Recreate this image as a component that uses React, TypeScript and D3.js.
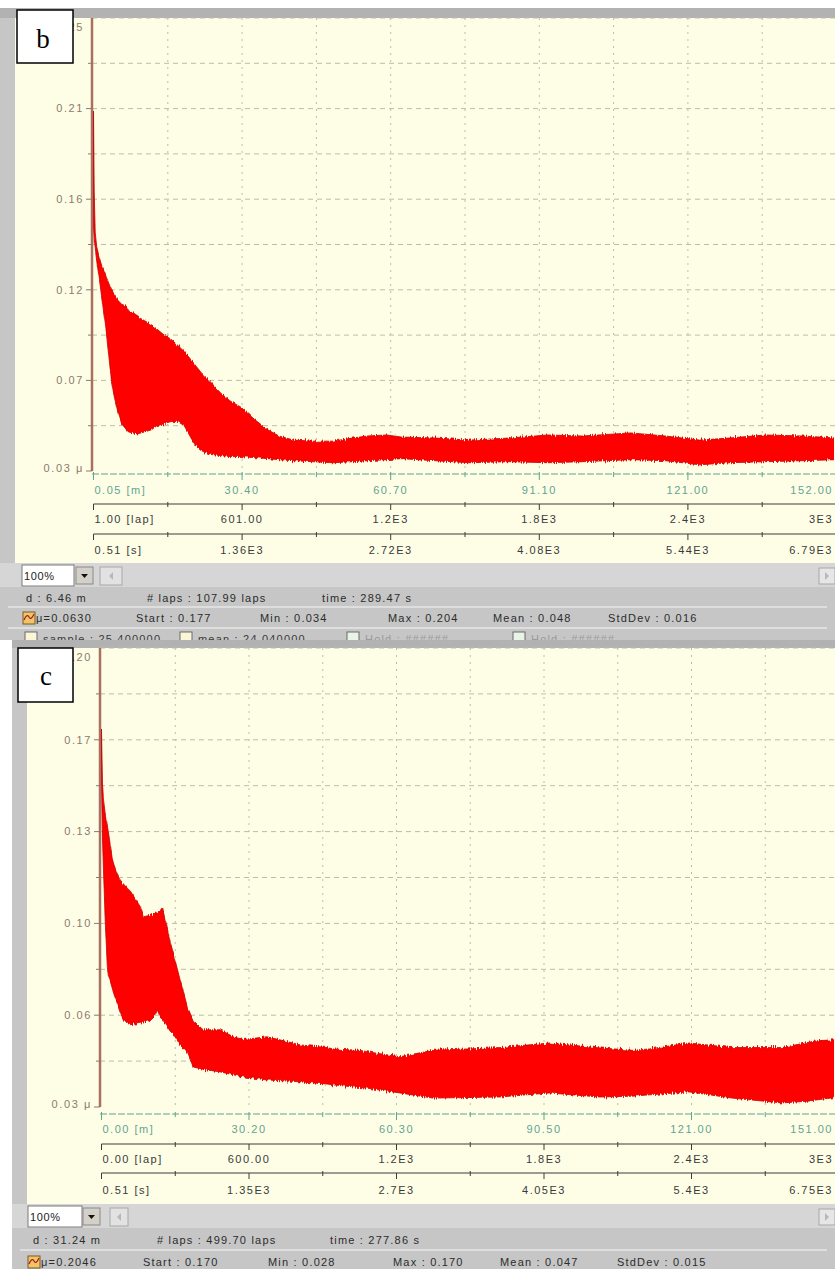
import React from 'react';
import * as d3 from 'd3';

// ---------- panel b ----------
// sliding distance [m], upper / lower envelope of the friction signal
const distB = [0.05, 0.2, 0.4, 0.7, 1.2, 1.7, 2.7, 3.7, 4.3, 5.0, 5.8, 6.8, 7.2, 9.0, 10.5, 11.9, 13.0, 14.5, 15.9, 17.3, 18.6, 20.0, 21.0, 22.0, 24.1, 26.0, 28.0, 30.2, 33.0, 35.7, 38.0, 41.0, 45.0, 49.0, 53.0, 56.0, 60.0, 63.0, 70.0, 77.0, 85.0, 93.0, 100.0, 110.0, 117.0, 124.0, 130.0, 137.5, 145.0, 152.0];
const muHighB = [0.205, 0.165, 0.146, 0.139, 0.134, 0.13, 0.124, 0.118, 0.116, 0.113, 0.111, 0.11, 0.108, 0.105, 0.103, 0.101, 0.099, 0.096, 0.094, 0.091, 0.088, 0.084, 0.081, 0.078, 0.073, 0.068, 0.064, 0.061, 0.055, 0.05, 0.047, 0.045, 0.0445, 0.0445, 0.046, 0.047, 0.0475, 0.0465, 0.046, 0.045, 0.046, 0.0475, 0.047, 0.0485, 0.047, 0.045, 0.046, 0.0475, 0.047, 0.046];
const muLowB = [0.15, 0.142, 0.138, 0.132, 0.124, 0.115, 0.097, 0.074, 0.066, 0.059, 0.053, 0.05, 0.049, 0.048, 0.049, 0.05, 0.052, 0.053, 0.054, 0.054, 0.052, 0.046, 0.042, 0.04, 0.038, 0.0375, 0.037, 0.037, 0.0365, 0.036, 0.0355, 0.035, 0.0345, 0.034, 0.0345, 0.035, 0.0355, 0.036, 0.035, 0.034, 0.0345, 0.034, 0.0345, 0.0355, 0.035, 0.033, 0.034, 0.0345, 0.035, 0.0355];
const yLabelsB = ['0.03 μ', '0.07', '0.12', '0.16', '0.21', '0.25'];
const meterTicksB = ['0.05 [m]', '30.40', '60.70', '91.10', '121.00', '152.00'];
const lapTicksB = ['1.00 [lap]', '601.00', '1.2E3', '1.8E3', '2.4E3', '3E3'];
const secTicksB = ['0.51 [s]', '1.36E3', '2.72E3', '4.08E3', '5.44E3', '6.79E3'];
const infoB = ['d : 6.46 m', '# laps : 107.99 laps', 'time : 289.47 s'];
const statsB = ['μ=0.0630', 'Start : 0.177', 'Min : 0.034', 'Max : 0.204', 'Mean : 0.048', 'StdDev : 0.016'];
const legendB = ['sample : 25.400000', 'mean : 24.040000', 'Hold : ######', 'Hold : ######'];

// ---------- panel c ----------
const distC = [0.0, 0.2, 0.4, 0.8, 1.2, 1.4, 2.2, 2.5, 3.5, 4.3, 5.3, 5.9, 8.0, 8.6, 10.0, 10.6, 11.4, 12.1, 12.5, 13.0, 14.1, 14.7, 16.1, 17.6, 18.8, 20.8, 21.7, 24.3, 27.0, 29.0, 33.9, 39.2, 40.7, 46.2, 47.4, 52.9, 54.3, 61.1, 67.8, 75.0, 81.5, 91.7, 101.9, 108.7, 112.2, 120.3, 129.1, 139.3, 144.9, 146.3, 151.0];
const muHighC = [0.17, 0.15, 0.144, 0.138, 0.134, 0.132, 0.122, 0.12, 0.115, 0.113, 0.111, 0.11, 0.104, 0.1005, 0.101, 0.1015, 0.102, 0.103, 0.104, 0.1, 0.091, 0.087, 0.077, 0.067, 0.062, 0.0586, 0.0586, 0.0586, 0.056, 0.055, 0.056, 0.0537, 0.053, 0.052, 0.0515, 0.051, 0.0505, 0.0486, 0.051, 0.0515, 0.052, 0.0537, 0.0519, 0.051, 0.0515, 0.0537, 0.052, 0.052, 0.054, 0.0545, 0.055];
const muLowC = [0.15, 0.13, 0.118, 0.097, 0.082, 0.079, 0.074, 0.072, 0.067, 0.063, 0.061, 0.0605, 0.061, 0.0615, 0.062, 0.063, 0.066, 0.063, 0.0625, 0.061, 0.058, 0.057, 0.053, 0.05, 0.0448, 0.044, 0.0437, 0.043, 0.0419, 0.0412, 0.04, 0.0395, 0.0393, 0.0385, 0.0382, 0.0372, 0.037, 0.0352, 0.0333, 0.0335, 0.0337, 0.0352, 0.0337, 0.034, 0.0345, 0.0356, 0.0333, 0.0315, 0.0322, 0.0326, 0.0337];
const yLabelsC = ['0.03 μ', '0.06', '0.10', '0.13', '0.17', '0.20'];
const meterTicksC = ['0.00 [m]', '30.20', '60.30', '90.50', '121.00', '151.00'];
const lapTicksC = ['0.00 [lap]', '600.00', '1.2E3', '1.8E3', '2.4E3', '3E3'];
const secTicksC = ['0.51 [s]', '1.35E3', '2.7E3', '4.05E3', '5.4E3', '6.75E3'];
const infoC = ['d : 31.24 m', '# laps : 499.70 laps', 'time : 277.86 s'];
const statsC = ['μ=0.2046', 'Start : 0.170', 'Min : 0.028', 'Max : 0.170', 'Mean : 0.047', 'StdDev : 0.015'];

const FONT = 'Liberation Sans, Arial, sans-serif';
const W = 835;
const H = 1269;

const panelB = {
  id: 'b', dist: distB, hi: muHighB, lo: muLowB, xDomain: [0.05, 152.0], yDomain: [0.03, 0.25],
  yLabels: yLabelsB, meter: meterTicksB, lap: lapTicksB, sec: secTicksB, info: infoB, stats: statsB, legend: legendB,
  barY: 8, plotTop: 18, plotBottom: 471, bottom: 640, grayX0: 0, yellowX: 15, axisX: 92, x0: 93.5, x1: 836.5,
  greenY: 474, greenLblY: 494, row2Y: 504, row2LblY: 523, row3Y: 534, row3LblY: 554, yellowBottom: 563,
  boxX: 22, boxW: 52, arrowX: 76, scrollX: 100, scrollW: 22,
  infoY: 602, infoXs: [26, 147, 322], sep1: 607, statsY: 622, statsXs: [36, 136, 260, 388, 493, 608], iconX: 23, sep2: 628,
  lbl: { x: 17, y: 10, w: 56, h: 53, tx: 43, ty: 48 },
};

const panelC = {
  id: 'c', dist: distC, hi: muHighC, lo: muLowC, xDomain: [0.0, 151.0], yDomain: [0.03, 0.2],
  yLabels: yLabelsC, meter: meterTicksC, lap: lapTicksC, sec: secTicksC, info: infoC, stats: statsC, legend: null,
  barY: 640, plotTop: 648, plotBottom: 1107, bottom: 1269, grayX0: 12, yellowX: 27, axisX: 100, x0: 101.5, x1: 839,
  greenY: 1114, greenLblY: 1133, row2Y: 1144, row2LblY: 1163, row3Y: 1173, row3LblY: 1194, yellowBottom: 1204,
  boxX: 28, boxW: 54, arrowX: 83, scrollX: 110, scrollW: 18,
  infoY: 1244, infoXs: [33, 157, 330], sep1: 1250, statsY: 1266, statsXs: [41, 143, 268, 393, 500, 617], iconX: 28, sep2: null,
  lbl: { x: 18, y: 648, w: 55, h: 54, tx: 46, ty: 685 },
};

function TickRow({ p, labels, lineY, lblY, color, tx, green }: any) {
  return (
    <g>
      <line x1={green ? p.axisX : p.x0} x2={W} y1={lineY} y2={lineY} stroke={color} strokeWidth={1}
        strokeDasharray={green ? '7 2' : undefined} />
      {d3.range(0, 6).map((i) => (
        <line key={'M' + i} x1={tx(i)} x2={tx(i)} y1={lineY - (green ? 2 : 0)} y2={lineY + 6} stroke={color} />
      ))}
      {d3.range(0, 5).map((i) => (
        <line key={'m' + i} x1={tx(i + 0.5)} x2={tx(i + 0.5)} y1={lineY - 2} y2={lineY + 3} stroke={color} />
      ))}
      {labels.map((t: string, i: number) => (
        // last label sits right-aligned against the window edge
        <text key={t} x={i === 0 ? tx(0) + 1 : i === 5 ? W - 2 : tx(i)} y={lblY}
          textAnchor={i === 0 ? 'start' : i === 5 ? 'end' : 'middle'}
          fill={color} fontSize={11} style={{ letterSpacing: 1.5 }}>{t}</text>
      ))}
    </g>
  );
}

function Panel({ p }: any) {
  const x = d3.scaleLinear().domain(p.xDomain).range([p.x0, p.x1]);
  const y = d3.scaleLinear().domain(p.yDomain).range([p.plotBottom, p.plotTop]);
  const tx = d3.scaleLinear().domain([0, 5]).range([p.x0, p.x1]);
  const yv = (i: number) => p.yDomain[0] + (i * (p.yDomain[1] - p.yDomain[0])) / 5;
  const band = p.dist.map((d: number, i: number) => ({ d, hi: p.hi[i], lo: p.lo[i] }));
  const area = d3.area<any>().x((r) => x(r.d)).y0((r) => y(r.lo)).y1((r) => y(r.hi));
  const tb = p.yellowBottom;
  const gridCol = '#bdbcaa';

  return (
    <g fontFamily={FONT}>
      <defs>
        <clipPath id={'clip-' + p.id}>
          <rect x={p.axisX - 1} y={p.plotTop} width={W - p.axisX} height={p.plotBottom - p.plotTop + 2} />
        </clipPath>
        <filter id={'rough-' + p.id} x="-2%" y="-10%" width="104%" height="120%">
          <feTurbulence type="fractalNoise" baseFrequency="0.9 0.03" numOctaves={2} seed={5} result="n" />
          <feColorMatrix in="n" type="matrix" values="0 0 0 0 0.5  0 1 0 0 0  0 0 1 0 0  0 0 0 0 1" result="m" />
          <feDisplacementMap in="SourceGraphic" in2="m" scale={6} xChannelSelector="R" yChannelSelector="G" />
        </filter>
      </defs>

      {/* frame */}
      <rect x={0} y={p.barY} width={W} height={p.bottom - p.barY} fill="#ffffff" />
      <rect x={p.grayX0} y={p.barY} width={W - p.grayX0} height={p.bottom - p.barY} fill="#c6c6c6" />
      <rect x={p.grayX0} y={p.barY} width={W - p.grayX0} height={p.plotTop - p.barY} fill="#b2b2b2" />
      <rect x={p.yellowX} y={p.plotTop} width={W - p.yellowX} height={p.yellowBottom - p.plotTop} fill="#fefee6" />

      {/* grid */}
      {d3.range(1, 11).map((k) => (
        <line key={'vg' + k} x1={tx(k / 2)} x2={tx(k / 2)} y1={p.plotTop} y2={p.plotBottom}
          stroke={gridCol} strokeDasharray="2 5" />
      ))}
      {d3.range(0, 10).map((k) => (
        <line key={'hg' + k} x1={p.axisX} x2={W} y1={y(yv(5 - k / 2))} y2={y(yv(5 - k / 2))}
          stroke={gridCol} strokeDasharray="5 4" />
      ))}

      {/* y axis */}
      <line x1={p.axisX} x2={p.axisX} y1={p.plotTop} y2={p.plotBottom} stroke="#a8705f" strokeWidth={2.5} />
      {d3.range(0, 10).map((k) => (
        <line key={'yt' + k} x1={p.axisX - (k % 2 === 0 ? 6 : 4)} x2={p.axisX} y1={y(yv(k / 2))} y2={y(yv(k / 2))}
          stroke="#8c7868" />
      ))}
      {p.yLabels.map((t: string, i: number) => (
        <text key={t} x={p.axisX - 8} y={y(yv(i)) + (i === 5 ? 9 : i === 0 ? -3 : 0)} dy="0.35em" textAnchor="end"
          fill="#8c7a6c" fontSize={11} style={{ letterSpacing: 1.6 }}>{t}</text>
      ))}

      {/* friction band */}
      <g clipPath={`url(#clip-${p.id})`}>
        <g filter={`url(#rough-${p.id})`}>
          <path d={area(band) || ''} fill="#ff0000" stroke="#c40000" strokeWidth={0.8} />
        </g>
      </g>

      {/* x axes */}
      <TickRow p={p} labels={p.meter} lineY={p.greenY} lblY={p.greenLblY} color="#62a392" tx={tx} green />
      <TickRow p={p} labels={p.lap} lineY={p.row2Y} lblY={p.row2LblY} color="#3a3a3a" tx={tx} />
      <TickRow p={p} labels={p.sec} lineY={p.row3Y} lblY={p.row3LblY} color="#3a3a3a" tx={tx} />

      {/* panel letter */}
      <rect x={p.lbl.x} y={p.lbl.y} width={p.lbl.w} height={p.lbl.h} fill="#ffffff" stroke="#000" strokeWidth={1.5} />
      <text x={p.lbl.tx} y={p.lbl.ty} textAnchor="middle" fontSize={27} fontFamily="Liberation Serif, Times New Roman, serif"
        fill="#000">{p.id}</text>

      {/* toolbar */}
      <rect x={p.grayX0} y={tb} width={W - p.grayX0} height={24} fill="#d6d6d6" />
      <rect x={p.boxX} y={tb + 2} width={p.boxW} height={21} fill="#ffffff" stroke="#7a7a7a" />
      <text x={p.boxX + 2} y={tb + 17} fontSize={11} fill="#222" style={{ letterSpacing: 0.6 }}>100%</text>
      <rect x={p.arrowX} y={tb + 4} width={17} height={17} fill="#d4d0c8" stroke="#8a8a8a" />
      <path d={`M${p.arrowX + 5},${tb + 11} h7 l-3.5,4 z`} fill="#111" />
      <rect x={p.scrollX} y={tb + 4} width={p.scrollW} height={18} fill="#e2e2e2" stroke="#a8a8a8" />
      <path d={`M${p.scrollX + p.scrollW / 2 + 2},${tb + 9} v8 l-4,-4 z`} fill="#b8b8b8" />
      <rect x={819} y={tb + 5} width={16} height={16} fill="#e6e6e6" stroke="#a8a8a8" />
      <path d={`M825,${tb + 9} v8 l4,-4 z`} fill="#b8b8b8" />

      {/* status */}
      {p.info.map((t: string, i: number) => (
        <text key={t} x={p.infoXs[i]} y={p.infoY} fontSize={11} fill="#2c2c2c" style={{ letterSpacing: 1.2 }}>{t}</text>
      ))}
      <line x1={p.grayX0 + 8} x2={W - 8} y1={p.sep1} y2={p.sep1} stroke="#e6e6e6" strokeWidth={1.5} />
      <rect x={p.iconX} y={p.statsY - 10} width={12} height={12} fill="#f2c46a" stroke="#7a5a20" />
      <path d={`M${p.iconX + 1},${p.statsY - 2} q3,-7 5,-3 t5,-3`} fill="none" stroke="#a02020" strokeWidth={1.2} />
      {p.stats.map((t: string, i: number) => (
        <text key={t} x={p.statsXs[i]} y={p.statsY} fontSize={11} fill="#2c2c2c" style={{ letterSpacing: 1.2 }}>{t}</text>
      ))}
      {p.sep2 && <line x1={p.grayX0 + 8} x2={W - 8} y1={p.sep2} y2={p.sep2} stroke="#e6e6e6" strokeWidth={1.5} />}
      {p.legend && p.legend.map((t: string, i: number) => {
        const lx = [25, 180, 347, 513][i];
        return (
          <g key={'lg' + i}>
            <rect x={lx} y={p.sep2 + 4} width={12} height={12} fill={i < 2 ? '#fbf6d8' : '#e8f4e8'} stroke="#6a6a6a" />
            <text x={lx + 18} y={p.sep2 + 15} fontSize={11} fill={i < 2 ? '#3a3a3a' : '#9a9a9a'}
              style={{ letterSpacing: 1.2 }}>{t}</text>
          </g>
        );
      })}
    </g>
  );
}

export default function App() {
  return (
    <div style={{ position: 'absolute', left: 0, top: 0, width: W, height: H, overflow: 'hidden', background: '#fff' }}>
      <svg width={W} height={H} viewBox={`0 0 ${W} ${H}`}>
        <rect x={0} y={0} width={W} height={H} fill="#ffffff" />
        <Panel p={panelB} />
        <Panel p={panelC} />
      </svg>
    </div>
  );
}
